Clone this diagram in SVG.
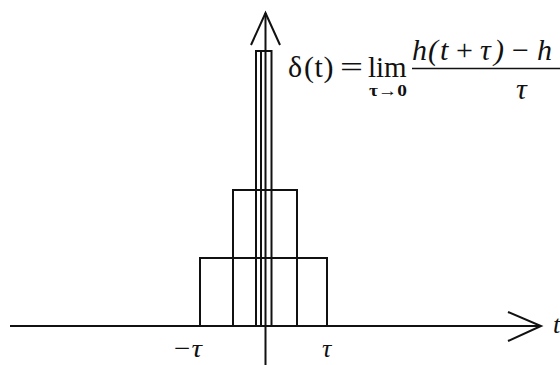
<svg xmlns="http://www.w3.org/2000/svg" width="560" height="365" viewBox="0 0 560 365">
<style>
.ln{stroke:#111;stroke-width:2;fill:none;stroke-linecap:butt}
.m{font-family:"Liberation Serif","DejaVu Serif",serif;fill:#111}
.it{font-style:italic}
.f{font-size:30px}
</style>
<rect width="560" height="365" fill="#fff"/>
<g id="pulses">
<rect class="ln" x="200" y="258" width="127" height="68"/>
<rect class="ln" x="233" y="190" width="64" height="136"/>
<rect class="ln" x="256" y="51" width="15.5" height="275"/>
<line class="ln" x1="261" y1="51" x2="261" y2="326"/>
</g>
<g id="axes">
<line class="ln" x1="10" y1="326" x2="541" y2="326"/>
<polyline class="ln" points="508,312 541,326 508,341"/>
<line class="ln" x1="265.5" y1="13" x2="265.5" y2="365"/>
<polyline class="ln" points="251,45 265.5,13 280,45"/>
</g>
<g id="labels">
<text class="m f" x="288" y="77">δ</text>
<text class="m f" x="304" y="77">(</text>
<text class="m f" x="314.5" y="77">t</text>
<text class="m f" x="323.5" y="77">)</text>
<text class="m f" x="340" y="77" textLength="23" lengthAdjust="spacingAndGlyphs">=</text>
<text class="m" x="368" y="77" font-size="29">lim</text>
<text class="m" x="369" y="96" font-size="16" font-weight="bold" textLength="38" lengthAdjust="spacingAndGlyphs">τ→0</text>
<text class="m it f" x="412" y="60">h</text>
<text class="m it f" x="428" y="60">(</text>
<text class="m it f" x="440" y="60">t</text>
<text class="m f" x="456" y="60">+</text>
<text class="m it f" x="480" y="60">τ</text>
<text class="m it f" x="494" y="60">)</text>
<text class="m f" x="512" y="60">−</text>
<text class="m it f" x="537" y="60">h</text>
<line x1="412" y1="68.5" x2="560" y2="68.5" stroke="#111" stroke-width="1.6"/>
<text class="m it f" x="516" y="99">τ</text>
<text class="m it" x="172" y="357" font-size="26" textLength="30" lengthAdjust="spacingAndGlyphs">−τ</text>
<text class="m it" x="322" y="357" font-size="26">τ</text>
<text class="m it" x="553" y="333" font-size="26">t</text>
</g>
</svg>
